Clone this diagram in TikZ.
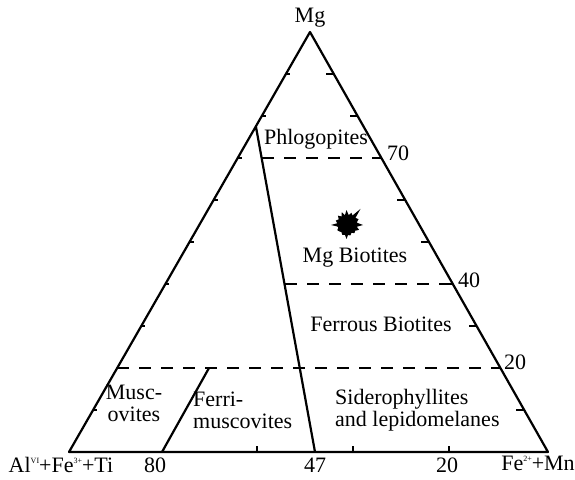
\documentclass[tikz,border=0pt]{standalone}
\usepackage{fontspec}
\setmainfont{Liberation Serif}
\usetikzlibrary{calc}
\newcommand{\supr}[1]{\raisebox{0.85ex}{\fontsize{8}{8}\selectfont #1}}
\begin{document}
\begin{tikzpicture}[x=1pt,y=-1pt,line join=round,font=\fontsize{22}{22}\selectfont,
	lbl/.style={inner sep=0pt,text height=0.68em,text depth=0.2em},
	side/.style={line width=2.2pt},
	tick/.style={line width=1.8pt},
	bound/.style={line width=2.6pt,dash pattern=on 12pt off 10pt}]
	\useasboundingbox (0,0) rectangle (575,479);
	\path
	(310,32) coordinate (Mg)
	(69,452) coordinate (Al)
	(548,452) coordinate (Fe)
	(256,127) coordinate (P)
	(315,452) coordinate (Q)
	(162,452) coordinate (M)
	(209,368) coordinate (M')
	(262,158) coordinate (D70)
	(381,158) coordinate (E70)
	(285,284) coordinate (D40)
	(453,284) coordinate (E40)
	(117,368) coordinate (D20)
	(500,368) coordinate (E20)
	(347,225) coordinate (S);
	\draw[side](Mg)--(Al)--(Fe)--cycle (P)--(Q) (M)--(M');
	\draw[bound](D70)--(E70) (D40)--(E40) (D20)--(E20);
	\foreach \t in {1,...,9}{
		\draw[tick]($(Al)!\t/10!(Mg)$)--++(4,0);
		\draw[tick]($(Fe)!\t/10!(Mg)$)--++(-8,0);
	}
	\foreach \x in {257,353,449} \draw[tick](\x,452)--++(0,-6);
	\fill([shift={(0:16)}]S)\foreach \a/\r in {10/10,22/13,35/10,48/11,60/9,72/11,84/10,92/14,102/10,115/11,128/9,140/10,152/11,164/9,172/10,180/16,190/10,202/12,214/10,226/13,238/10,248/14,258/10,268/15,280/10,290/13,300/11,310/21,320/11,333/13,346/10}{--([shift={(\a:\r)}]S)}--cycle;
	\node[lbl] at (310,20) {Mg};
	\node[lbl] at (316,142) {Phlogopites};
	\node[lbl] at (398,158) {70};
	\node[lbl] at (355,260) {Mg Biotites};
	\node[lbl] at (469,285) {40};
	\node[lbl] at (381,329) {Ferrous Biotites};
	\node[lbl] at (515,367) {20};
	\node[lbl,align=center] at (134,419) {Musc-\\ovites};
	\node[lbl,align=left,anchor=west] at (193,426) {Ferri-\\muscovites};
	\node[lbl,align=left,anchor=west] at (335,424) {Siderophyllites\\and lepidomelanes};
	\node[lbl] at (61,470) {Al\supr{VI}+Fe\supr{3+}+Ti};
	\node[lbl] at (155,470) {80};
	\node[lbl] at (315,470) {47};
	\node[lbl] at (447,470) {20};
	\node[lbl] at (538,468) {Fe\supr{2+}+Mn};
\end{tikzpicture}
\end{document}
